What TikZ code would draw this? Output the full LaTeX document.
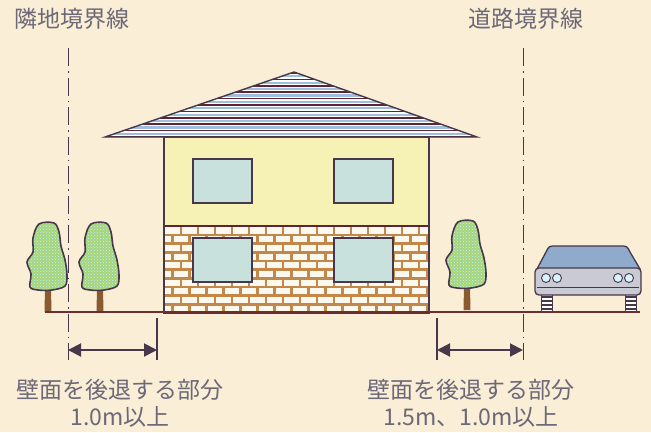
\documentclass[tikz,border=0pt]{standalone}
\usepackage{fontspec}
\newfontfamily\jpfont{Noto Sans CJK JP}
\usetikzlibrary{arrows.meta,patterns}
\definecolor{paper}{HTML}{FAEFD6}
\definecolor{ink}{HTML}{46384A}
\definecolor{txt}{HTML}{6C6878}
\definecolor{ground}{HTML}{6E2E30}
\definecolor{wallyel}{HTML}{F6F1B4}
\definecolor{mortar}{HTML}{C4874A}
\definecolor{brick}{HTML}{FBF8EE}
\definecolor{glass}{HTML}{C9E1DD}
\definecolor{roofred}{HTML}{5E2434}
\definecolor{roofblue}{HTML}{9FC0DC}
\definecolor{leaf}{HTML}{A9D27A}
\definecolor{trunk}{HTML}{8A5A30}
\definecolor{carbody}{HTML}{C9CAD3}
\definecolor{carglass}{HTML}{8FAACB}
\tikzset{
  lbl/.style={font=\jpfont\fontsize{23}{28}\selectfont, text=txt, inner sep=0pt},
  boundary/.style={draw=ink, line width=1pt, dash pattern=on 18pt off 5pt on 1.5pt off 5pt},
  tick/.style={draw=ink, line width=1.1pt},
  dimarrow/.style={draw=ink, line width=2pt, {Triangle[length=13pt,width=13pt]}-{Triangle[length=13pt,width=13pt]}},
  window/.style={fill=glass, draw=ink, line width=1.4pt},
  outline/.style={draw=ink, line width=1.4pt},
  tree/.pic={
    % trunk
    \fill[trunk] (-3.5,0) -- (-3,-24) -- (3,-24) -- (3.5,0) -- cycle;
    % crown: green fill, light dot pattern, dark outline
    \path[fill=leaf] plot[smooth cycle, tension=0.55] coordinates {
      (-9,-88) (6,-89) (11,-80) (13,-66) (17,-52) (19,-37) (17,-26)
      (4,-22) (-10,-22) (-18,-25) (-17,-38) (-21,-50) (-15,-60) (-15,-74)};
    \path[pattern=crosshatch dots, pattern color=white!70!cyan] plot[smooth cycle, tension=0.55] coordinates {
      (-9,-88) (6,-89) (11,-80) (13,-66) (17,-52) (19,-37) (17,-26)
      (4,-22) (-10,-22) (-18,-25) (-17,-38) (-21,-50) (-15,-60) (-15,-74)};
    \draw[ink, line width=1.6pt] plot[smooth cycle, tension=0.55] coordinates {
      (-9,-88) (6,-89) (11,-80) (13,-66) (17,-52) (19,-37) (17,-26)
      (4,-22) (-10,-22) (-18,-25) (-17,-38) (-21,-50) (-15,-60) (-15,-74)};
  },
  wheel/.pic={
    \fill[white] (0,0) rectangle (11,18);
    \foreach \s in {2,6,10,14} \fill[ink] (0,\s) rectangle (11,\s+1.8);
    \draw[ink, line width=1pt] (0,0) rectangle (11,18);
  }
}
\begin{document}
\begin{tikzpicture}[x=1pt,y=-1pt]
\useasboundingbox (0,0) rectangle (651,432);
\fill[paper] (0,0) rectangle (651,432);

% boundary labels
\node[lbl] (nlabel) at (72,19) {隣地境界線};
\node[lbl] (rlabel) at (526,19) {道路境界線};

% boundary lines
\coordinate (ltop) at (68,48);  \coordinate (lbot) at (68,360);
\coordinate (rtop) at (523,48); \coordinate (rbot) at (523,360);
\draw[boundary] (ltop) -- (lbot);
\draw[boundary] (rtop) -- (rbot);

% trees
\pic at (48,312) {tree};
\pic at (100,312) {tree};
\pic at (467,310) {tree};

% house: upper wall
\fill[wallyel] (164,137) rectangle (429,226);
% house: brick wall
\begin{scope}
  \clip (164,226) rectangle (429,313);
  \fill[mortar] (164,226) rectangle (429,313);
  \foreach \r in {0,...,9} {
    \pgfmathsetmacro\yy{226+\r*8.7}
    \pgfmathsetmacro\off{mod(\r,2)*8.5}
    \foreach \c in {-1,...,16} {
      \pgfmathsetmacro\xx{164+\c*17-\off}
      \fill[brick] (\xx+1.3,\yy+1.4) rectangle (\xx+15.7,\yy+7.5);
    }
  }
\end{scope}
\draw[roofred, line width=1.2pt] (164,226) -- (429,226);
\draw[outline] (164,137) rectangle (429,313);

% windows
\node[window, minimum width=59pt, minimum height=44pt, inner sep=0pt] (w1) at (222.5,181) {};
\node[window, minimum width=59pt, minimum height=44pt, inner sep=0pt] (w2) at (363.5,181) {};
\node[window, minimum width=59pt, minimum height=44pt, inner sep=0pt] (w3) at (222.5,260) {};
\node[window, minimum width=59pt, minimum height=44pt, inner sep=0pt] (w4) at (363.5,260) {};

% roof with horizontal stripes
\begin{scope}
  \clip (294,72) -- (477,137) -- (105,137) -- cycle;
  \fill[white] (100,70) rectangle (480,140);
  \foreach \k in {0,...,10} {
    \pgfmathsetmacro\yy{73+\k*6.4}
    \draw[roofred, line width=1.7pt] (100,\yy) -- (480,\yy);
    \draw[roofblue, line width=2.2pt] (100,\yy+3.2) -- (480,\yy+3.2);
  }
\end{scope}
\draw[outline, line join=miter] (294,72) -- (477,137) -- (105,137) -- cycle;

% car
\path[fill=carglass, draw=ink, line width=1.3pt]
  (537,269) -- (546,252) .. controls (549,246) .. (556,246) -- (620,246)
  .. controls (627,246) .. (630,252) -- (640,269) -- cycle;
\pic at (541,294) {wheel};
\pic at (625,294) {wheel};
\draw[fill=carbody, draw=ink, line width=1.3pt, rounded corners=4pt] (535,268) rectangle (641,295);
\draw[ink, line width=1pt] (537,287) -- (639,287);
\foreach \hx in {546,557,618,629}
  \draw[fill=white!85!cyan, draw=ink, line width=0.9pt] (\hx,278) circle (4.5pt);

% ground line
\coordinate (gl) at (45,312); \coordinate (gr) at (640,312);
\draw[ground, line width=1.6pt] (gl) -- (gr);

% setback dimensions
\coordinate (lw) at (157,318); \coordinate (lwb) at (157,360);
\coordinate (rw) at (437,318); \coordinate (rwb) at (437,360);
\draw[tick] (lw) -- (lwb);
\draw[tick] (rw) -- (rwb);
\coordinate (la) at (68,350);  \coordinate (lb) at (157,350);
\coordinate (ra) at (437,350); \coordinate (rb) at (523,350);
\draw[dimarrow] (la) -- (lb);
\draw[dimarrow] (ra) -- (rb);

% captions
\node[lbl] (lcap1) at (120,390) {壁面を後退する部分};
\node[lbl] (lcap2) at (120,417) {1.0m以上};
\node[lbl] (rcap1) at (471,390) {壁面を後退する部分};
\node[lbl] (rcap2) at (471,417) {1.5m、1.0m以上};
\end{tikzpicture}
\end{document}
